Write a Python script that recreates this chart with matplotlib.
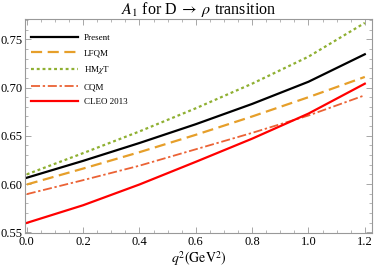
import numpy as np
import matplotlib
matplotlib.use('Agg')
import matplotlib.pyplot as plt
from matplotlib.ticker import MultipleLocator

plt.rcParams['font.family'] = ['Liberation Serif', 'DejaVu Serif']
plt.rcParams['mathtext.fontset'] = 'stix'

# values
q2 = [0.0, 0.2, 0.4, 0.6, 0.8, 1.0, 1.2]
present = [0.6065, 0.624, 0.6425, 0.662, 0.683, 0.706, 0.7345]
lfqm = [0.5995, 0.616, 0.633, 0.651, 0.670, 0.690, 0.711]
hmxt = [0.610, 0.632, 0.6545, 0.6785, 0.704, 0.732, 0.767]
cqm = [0.5895, 0.604, 0.619, 0.636, 0.653, 0.671, 0.692]
cleo = [0.5597, 0.578, 0.5995, 0.623, 0.647, 0.673, 0.704]

fig = plt.figure(figsize=(3.74, 2.76), dpi=100)
ax = fig.add_axes([0.067, 0.155, 0.928, 0.776])

ax.plot(q2, present, color='black', lw=1.6, label='Present')
ax.plot(q2, lfqm, color='#E69F2A', lw=1.6, dashes=(5, 2.5), label='LFQM')
ax.plot(q2, hmxt, color='#8FB032', lw=1.6, dashes=(1.3, 1.3), label=r'HM$\chi$T')
ax.plot(q2, cqm, color='#EB6235', lw=1.3, dashes=(5, 1.5, 1.3, 1.5), label='CQM')
ax.plot(q2, cleo, color='#FF0000', lw=1.6, label='CLEO 2013')

ax.set_xlim(-0.006, 1.226)
ax.set_ylim(0.549, 0.771)
ax.xaxis.set_major_locator(MultipleLocator(0.2))
ax.xaxis.set_minor_locator(MultipleLocator(0.05))
ax.yaxis.set_major_locator(MultipleLocator(0.05))
ax.yaxis.set_minor_locator(MultipleLocator(0.01))
ax.xaxis.set_major_formatter(plt.FormatStrFormatter('%.1f'))
ax.yaxis.set_major_formatter(plt.FormatStrFormatter('%.2f'))
ax.tick_params(which='both', direction='in', top=True, right=True,
               color='#999999', labelsize=9, pad=2)
ax.tick_params(which='major', length=4, width=0.6)
ax.tick_params(which='minor', length=2.2, width=0.5)
for s in ax.spines.values():
    s.set_color('#999999')
    s.set_linewidth(0.8)

ax.set_title(r'$A_1$ for D$\;\rightarrow\;\rho$ transition', fontsize=11.5, pad=2)
ax.set_xlabel(r'$q^2\left(\mathrm{GeV}^2\right)$', fontsize=10, labelpad=1)

ax.legend(loc='upper left', frameon=False, fontsize=6.5, handlelength=5.2,
          labelspacing=0.75, handletextpad=0.6, borderaxespad=0.3,
          bbox_to_anchor=(0.0, 0.96))

fig.savefig('out.png', dpi=100)
